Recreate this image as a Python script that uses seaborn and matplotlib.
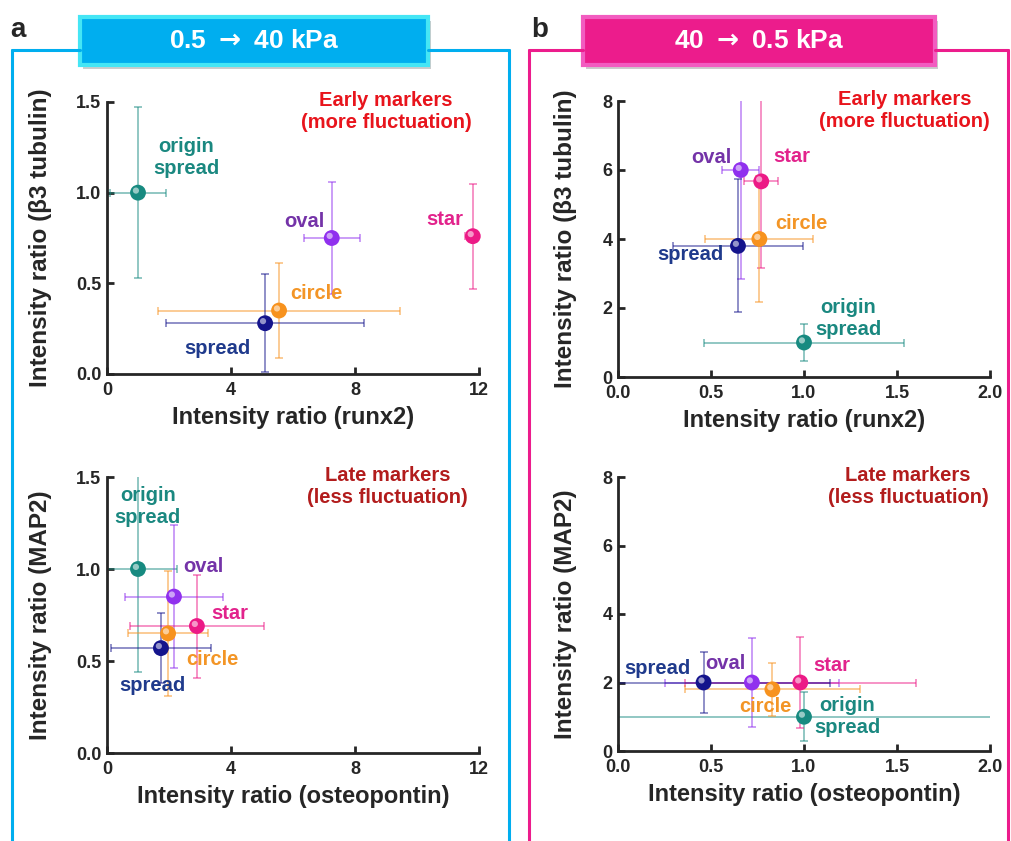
import matplotlib
matplotlib.use("Agg")
import matplotlib.pyplot as plt
import seaborn as sns
import pandas as pd
from matplotlib.patches import Rectangle
from matplotlib.lines import Line2D
from matplotlib.transforms import offset_copy

# ---- data ----
shapes = ["origin spread", "oval", "star", "circle", "spread"]

# panel a: 0.5 -> 40 kPa
a_runx2 = [1.0, 7.25, 11.8, 5.55, 5.1]
a_runx2_err = [0.9, 0.9, 0.25, 3.9, 3.2]
a_tub = [1.0, 0.75, 0.76, 0.35, 0.28]
a_tub_err = [0.47, 0.31, 0.29, 0.26, 0.27]

a_opn = [1.0, 2.16, 2.9, 1.97, 1.74]
a_opn_err = [1.25, 1.58, 2.15, 1.3, 1.6]
a_map2 = [1.0, 0.85, 0.69, 0.65, 0.57]
a_map2_err = [0.56, 0.39, 0.28, 0.34, 0.19]

# panel b: 40 -> 0.5 kPa
b_runx2 = [1.0, 0.66, 0.77, 0.76, 0.645]
b_runx2_err = [0.54, 0.1, 0.09, 0.29, 0.35]
b_tub = [1.0, 6.0, 5.67, 4.0, 3.8]
b_tub_err = [0.53, 3.15, 2.5, 1.83, 1.93]

b_opn = [1.0, 0.72, 0.98, 0.83, 0.46]
b_opn_err = [1.5, 0.47, 0.62, 0.47, 0.68]
b_map2 = [1.0, 2.0, 2.0, 1.8, 2.0]
b_map2_err = [0.72, 1.3, 1.33, 0.78, 0.9]

# colours
marker_col = {"origin spread": "#178a80", "oval": "#9030ee", "star": "#ec1a86",
              "circle": "#f7921e", "spread": "#14148c"}
label_col = {"origin spread": "#1a8880", "oval": "#7433a8", "star": "#e2238c",
             "circle": "#f39526", "spread": "#1f3a8c"}

# label offsets (points) relative to each point
off_a_top = {"origin spread": (35, 25), "oval": (-20, 12), "star": (-20, 12),
             "circle": (27, 12), "spread": (-34, -18)}
off_b_top = {"origin spread": (32, 17), "oval": (-21, 9), "star": (22, 18),
             "circle": (30, 11), "spread": (-34, -6)}
off_a_bot = {"origin spread": (7, 45), "oval": (21, 22), "star": (24, 9),
             "circle": (32, -19), "spread": (-6, -27)}
off_b_bot = {"origin spread": (31, 0), "oval": (-19, 14), "star": (23, 12),
             "circle": (-5, -12), "spread": (-33, 10)}

sns.set_style("ticks")
plt.rcParams['font.family'] = ['Liberation Sans', 'DejaVu Sans']
plt.rcParams['font.weight'] = 'bold'
plt.rcParams['mathtext.default'] = 'bf'

W, H = 1011, 841
fig = plt.figure(figsize=(W / 100, H / 100), dpi=100)


def px_axes(l, t, r, b):
    return fig.add_axes([l / W, 1 - b / H, (r - l) / W, (b - t) / H])


def panel(ax, xs, xerr, ys, yerr, offsets, xlim, ylim, xticks, yticks,
          xfmt, yfmt, xlabel, ylabel, note, note_col, note_x):
    df = pd.DataFrame({"shape": shapes, "x": xs, "y": ys, "xerr": xerr, "yerr": yerr})
    for _, r in df.iterrows():
        ax.errorbar(r["x"], r["y"], xerr=r["xerr"], yerr=r["yerr"], fmt="none",
                    ecolor=marker_col[r["shape"]], alpha=0.6, elinewidth=1.1,
                    capsize=3, capthick=1.1, zorder=2)
    sns.scatterplot(data=df, x="x", y="y", hue="shape", palette=marker_col,
                    s=130, edgecolor="none", legend=False, ax=ax, zorder=3,
                    clip_on=False)
    hl = offset_copy(ax.transData, fig=fig, x=-1.5, y=1.5, units="points")
    ax.scatter(df["x"], df["y"], s=20, color="white", alpha=0.55,
               edgecolor="none", transform=hl, zorder=4, clip_on=False)
    for _, r in df.iterrows():
        txt = "origin\nspread" if r["shape"] == "origin spread" else r["shape"]
        ax.annotate(txt, (r["x"], r["y"]), xytext=offsets[r["shape"]],
                    textcoords="offset points", ha="center", va="center",
                    fontsize=14.5, fontweight="bold", color=label_col[r["shape"]],
                    linespacing=1.2)
    ax.set_xlim(*xlim)
    ax.set_ylim(*ylim)
    ax.set_xticks(xticks)
    ax.set_yticks(yticks)
    ax.set_xticklabels([xfmt.format(v) for v in xticks], fontsize=13, fontweight="bold")
    ax.set_yticklabels([yfmt.format(v) for v in yticks], fontsize=13, fontweight="bold")
    ax.set_xlabel(xlabel, fontsize=17, fontweight="bold", labelpad=5)
    ax.set_ylabel(ylabel, fontsize=17.5, fontweight="bold")
    sns.despine(ax=ax)
    for s in ["left", "bottom"]:
        ax.spines[s].set_linewidth(2)
    ax.tick_params(width=2, length=5, direction="in", pad=4)
    ax.tick_params(axis="x", pad=6)
    ax.text(note_x, 0.965, note, transform=ax.transAxes, ha="center", va="center",
            fontsize=14.5, fontweight="bold", color=note_col, linespacing=1.2)


early = "Early markers\n(more fluctuation)"
late = "Late markers\n(less fluctuation)"

ax1 = px_axes(107, 102, 479, 374)
panel(ax1, a_runx2, a_runx2_err, a_tub, a_tub_err, off_a_top, (0, 12), (0, 1.5),
      [0, 4, 8, 12], [0, 0.5, 1.0, 1.5], "{:.0f}", "{:.1f}",
      "Intensity ratio (runx2)", "Intensity ratio (β3 tubulin)", early, "#e8141c", 0.75)

ax2 = px_axes(618, 101, 990, 377)
panel(ax2, b_runx2, b_runx2_err, b_tub, b_tub_err, off_b_top, (0, 2), (0, 8),
      [0, 0.5, 1.0, 1.5, 2.0], [0, 2, 4, 6, 8], "{:.1f}", "{:.0f}",
      "Intensity ratio (runx2)", "Intensity ratio (β3 tubulin)", early, "#e8141c", 0.77)

ax3 = px_axes(107, 477, 479, 753)
panel(ax3, a_opn, a_opn_err, a_map2, a_map2_err, off_a_bot, (0, 12), (0, 1.5),
      [0, 4, 8, 12], [0, 0.5, 1.0, 1.5], "{:.0f}", "{:.1f}",
      "Intensity ratio (osteopontin)", "Intensity ratio (MAP2)", late, "#b21c1c", 0.755)

ax4 = px_axes(618, 477, 990, 751)
panel(ax4, b_opn, b_opn_err, b_map2, b_map2_err, off_b_bot, (0, 2), (0, 8),
      [0, 0.5, 1.0, 1.5, 2.0], [0, 2, 4, 6, 8], "{:.1f}", "{:.0f}",
      "Intensity ratio (osteopontin)", "Intensity ratio (MAP2)", late, "#b21c1c", 0.78)

for ax in (ax1, ax3):
    ax.yaxis.set_label_coords(-0.148, 0.5)
for ax in (ax2, ax4):
    ax.yaxis.set_label_coords(-0.11, 0.5)


# ---- frames and header boxes ----
def fline(x0, y0, x1, y1, col):
    fig.add_artist(Line2D([x0 / W, x1 / W], [1 - y0 / H, 1 - y1 / H],
                          color=col, linewidth=2.2))


def header(l, t, r, b, face, edge, text):
    fig.add_artist(Rectangle(((l + 3) / W, 1 - (b + 4) / H), (r - l) / W, (b - t) / H,
                             facecolor="#9a9a9a", edgecolor="none", alpha=0.5))
    fig.add_artist(Rectangle((l / W, 1 - b / H), (r - l) / W, (b - t) / H,
                             facecolor=face, edgecolor=edge, linewidth=3))
    fig.text((l + r) / 2 / W, 1 - (t + b) / 2 / H, text, ha="center", va="center",
             color="white", fontsize=19, fontweight="bold")


cyan, cyan_edge = "#00aeef", "#45e6f5"
mag, mag_edge = "#ec1c8c", "#f25cc0"

fline(12, 50, 80, 50, cyan)
fline(428, 50, 509, 50, cyan)
fline(12, 50, 12, 841, cyan)
fline(509, 50, 509, 841, cyan)
header(80, 17, 428, 65, cyan, cyan_edge, r"0.5 $\rightarrow$ 40 kPa")

fline(529, 50, 583, 50, mag)
fline(935, 50, 1008, 50, mag)
fline(529, 50, 529, 841, mag)
fline(1008, 50, 1008, 841, mag)
header(583, 17, 935, 65, mag, mag_edge, r"40 $\rightarrow$ 0.5 kPa")

fig.text(10 / W, 1 - 30 / H, "a", fontsize=20, fontweight="bold", va="center")
fig.text(531 / W, 1 - 30 / H, "b", fontsize=20, fontweight="bold", va="center")

fig.savefig("out.png", dpi=100)
